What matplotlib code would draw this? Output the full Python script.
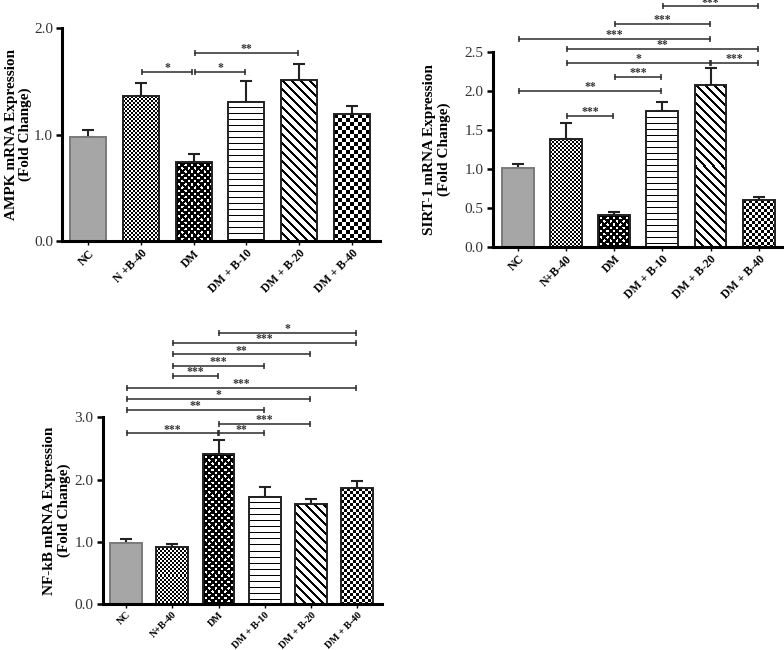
import numpy as np
import matplotlib
matplotlib.use('Agg')
import matplotlib.pyplot as plt

plt.rcParams['font.family'] = ['Liberation Serif', 'DejaVu Serif']

# group labels (AMPK panel spells the second one with a space)
labels_ampk = ['NC', 'N +B-40', 'DM', 'DM + B-10', 'DM + B-20', 'DM + B-40']
labels = ['NC', 'N+B-40', 'DM', 'DM + B-10', 'DM + B-20', 'DM + B-40']
textures = ['solid', 'fine', 'dots', 'hlines', 'diag', 'checker']

# fold change values (mean) and upper error (SEM)
ampk_mean = [0.98, 1.36, 0.74, 1.31, 1.51, 1.19]
ampk_sem = [0.06, 0.12, 0.08, 0.19, 0.15, 0.08]
sirt_mean = [1.01, 1.38, 0.41, 1.74, 2.07, 0.60]
sirt_sem = [0.05, 0.21, 0.04, 0.12, 0.22, 0.04]
nfkb_mean = [0.98, 0.92, 2.41, 1.72, 1.60, 1.86]
nfkb_sem = [0.06, 0.05, 0.22, 0.16, 0.08, 0.12]

# significance brackets: (from group, to group, height, stars)
ampk_sig = [(1, 2, 1.59, '*'), (2, 3, 1.59, '*'), (2, 4, 1.77, '**')]
sirt_sig = [(1, 2, 1.68, '***'), (0, 3, 2.00, '**'), (2, 3, 2.17, '***'),
            (1, 4, 2.36, '*'), (4, 5, 2.36, '***'), (1, 5, 2.53, '**'),
            (0, 4, 2.66, '***'), (2, 4, 2.86, '***'), (3, 5, 3.08, '***')]
nfkb_sig = [(0, 2, 2.74, '***'), (2, 3, 2.74, '**'), (2, 4, 2.90, '***'),
            (0, 3, 3.12, '**'), (0, 4, 3.29, '*'), (0, 5, 3.47, '***'),
            (1, 2, 3.67, '***'), (1, 3, 3.83, '***'), (1, 4, 4.01, '**'),
            (1, 5, 4.19, '***'), (2, 5, 4.36, '*')]


def fill_texture(ax, bar, kind, cell):
    # paint a pixel-sized pattern inside the bar rectangle
    x0, y0 = bar.get_x(), bar.get_y()
    x1, y1 = x0 + bar.get_width(), y0 + bar.get_height()
    (p0x, p0y), (p1x, p1y) = ax.transData.transform([(x0, y0), (x1, y1)])
    nx = max(int(round(p1x - p0x)), 1)
    ny = max(int(round(p1y - p0y)), 1)
    X, Y = np.meshgrid(np.arange(nx), np.arange(ny))
    if kind == 'fine':
        img = (X // 2 + Y // 2) % 2
    elif kind == 'checker':
        img = (X // cell + Y // cell) % 2
    elif kind == 'hlines':
        img = np.where((Y % 6) < 1, 0.0, 1.0)
    elif kind == 'diag':
        img = np.where(((X - Y) % 9) < 3, 0.0, 1.0)
    else:  # white dots on black
        c = 3.2
        a = ((X + 0.5) / c + (Y + 0.5) / c) / 2
        b = ((X + 0.5) / c - (Y + 0.5) / c) / 2
        da = a - np.round(a)
        db = b - np.round(b)
        d = c * np.sqrt(2 * (da ** 2 + db ** 2))
        img = np.where(d < 1.3, 1.0, 0.0)
    ax.imshow(img, cmap='gray', vmin=0, vmax=1, origin='upper', interpolation='nearest',
              extent=(x0, x1, y0, y1), aspect='auto', zorder=1.5)


def panel(fig, rect, xlim, ylim, yticks, width, mean, sem, sig, names, ylabel, lab_x,
          xfs, cell):
    ax = fig.add_axes(rect)
    ax.set_xlim(*xlim)
    ax.set_ylim(*ylim)
    x = np.arange(len(mean))
    bars = ax.bar(x, mean, width, facecolor='none', edgecolor='#222222',
                  linewidth=1.4, zorder=2)
    for b, kind in zip(bars, textures):
        if kind == 'solid':
            b.set_facecolor('#a6a6a6')
            b.set_edgecolor('#7a7a7a')
        else:
            fill_texture(ax, b, kind, cell)
    ax.errorbar(x, mean, yerr=[np.zeros(len(sem)), sem], fmt='none',
                ecolor='#222222', elinewidth=1.5, capsize=4.5, capthick=1.5, zorder=1)

    for i, j, h, st in sig:
        ax.plot([i + 0.02, j - 0.02], [h, h], color='#2b2b2b', lw=1.1,
                marker='|', ms=4.5, mew=1.1, clip_on=False)
        ax.annotate(st, ((i + j) / 2, h), xytext=(0, -1.5), textcoords='offset points',
                    ha='center', va='bottom', fontsize=8.5, fontweight='bold',
                    color='#333333', annotation_clip=False)

    for side in ['top', 'right']:
        ax.spines[side].set_visible(False)
    for side in ['left', 'bottom']:
        ax.spines[side].set_linewidth(2.2)
    ax.set_yticks(yticks)
    ax.set_yticklabels(['%.1f' % t for t in yticks], fontsize=11, color='#333333')
    ax.tick_params(axis='y', length=4, width=1.8, pad=2.5)
    ax.tick_params(axis='x', length=3, width=1, pad=1.5)
    ax.set_xticks(x)
    ax.set_xticklabels(names, rotation=45, ha='right', rotation_mode='anchor',
                       fontsize=xfs, fontweight='bold')
    ax.set_ylabel(ylabel, fontsize=11, fontweight='bold', linespacing=1.1)
    ax.yaxis.set_label_coords(lab_x, 0.5)
    return ax


fig = plt.figure(figsize=(7.84, 6.5), dpi=100)

panel(fig, [0.0791, 0.6292, 0.4056, 0.3277], (-0.49, 5.53), (0, 2.0), [0.0, 1.0, 2.0], 0.68,
      ampk_mean, ampk_sem, ampk_sig, labels_ampk,
      'AMPK mRNA Expression\n(Fold Change)', -0.094, 8.5, 4)
panel(fig, [0.6284, 0.6205, 0.370, 0.300], (-0.525, 5.5), (0, 2.5),
      [0.0, 0.5, 1.0, 1.5, 2.0, 2.5], 0.66,
      sirt_mean, sirt_sem, sirt_sig, labels,
      'SIRT-1 mRNA Expression\n(Fold Change)', -0.144, 8.5, 3)
panel(fig, [0.131, 0.0708, 0.356, 0.2872], (-0.504, 5.53), (0, 3.0), [0.0, 1.0, 2.0, 3.0], 0.69,
      nfkb_mean, nfkb_sem, nfkb_sig, labels,
      'NF-kB mRNA Expression\n(Fold Change)', -0.115, 7.2, 3)

fig.savefig('out.png', dpi=100)
